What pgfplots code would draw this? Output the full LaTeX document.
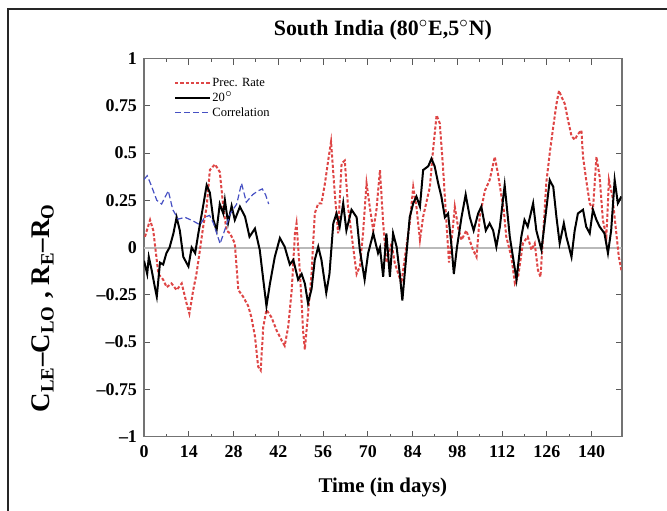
\documentclass[border=0pt]{standalone}
\usepackage{fontspec}
\setmainfont{Liberation Serif}
\usepackage{pgfplots}
\pgfplotsset{compat=1.18}
\definecolor{precred}{RGB}{222,70,70}
\definecolor{corrblue}{RGB}{70,80,195}
\begin{document}
\begin{tikzpicture}
\begin{axis}[
  at={(72bp,-218.25bp)}, anchor=south west,
  scale only axis, width=238.85bp, height=189bp,
  xmin=0, xmax=149.4, ymin=-1, ymax=1,
  xtick={0,14,28,42,56,70,84,98,112,126,140},
  minor x tick num=1,
  ytick={-1,-0.75,-0.5,-0.25,0,0.25,0.5,0.75,1},
  yticklabels={--1,--0.75,--0.5,--0.25,0,0.25,0.5,0.75,1},
  /pgf/number format/assume math mode=true,
  ticklabel style={font=\bfseries\fontsize{9}{9}\selectfont},
  xticklabel style={yshift=-1bp},
  major tick length=3bp, minor tick length=1.5bp,
  tick style={black!65, line width=0.5bp},
  axis line style={black!55, line width=0.8bp},
  tick align=inside,
  title={South India (80$^{\circ}$E,5$^{\circ}$N)},
  title style={font=\bfseries\fontsize{11}{12}\selectfont, at={(axis description cs:0.5,1)}, anchor=center, yshift=8bp},
  xlabel={Time (in days)},
  xlabel style={font=\bfseries\fontsize{10.5}{12}\selectfont, at={(axis description cs:0.5,0)}, anchor=center, yshift=-25.5bp},
  ylabel={C\textsubscript{LE}--C\textsubscript{LO} , R\textsubscript{E}--R\textsubscript{O}},
  ylabel style={font=\bfseries\fontsize{13.5}{14}\selectfont, at={(axis description cs:-0.212,0.34)}, anchor=center},
  legend style={draw=none, fill=none, at={(axis description cs:0.05,0.965)}, anchor=north west,
    font=\fontsize{6.3}{6.3}\selectfont, row sep=1bp,
    nodes={text height=4.6bp, text depth=0.9bp, inner sep=0.5bp}},
  legend cell align=left,
  legend image code/.code={\draw[#1] (0cm,0cm) -- (0.62cm,0cm);},
]
\addplot[gray!55, line width=1bp, forget plot] coordinates {(0,0) (149.4,0)};
\addplot[precred, line width=1bp, dash pattern=on 1.6bp off 1bp] coordinates {
(0.3,0.057) (1.9,0.146) (2.9,0.09) (4.5,-0.14) (6,-0.17) (7.1,-0.21) (8.6,-0.19) (10.2,-0.225)
(11.8,-0.19) (13.3,-0.295) (14.2,-0.35) (15.4,-0.225) (16.4,-0.14) (17.5,-0.013) (18.5,0.11)
(19.6,0.216) (20.6,0.41) (22.2,0.44) (23.7,0.40) (24.8,0.216) (25.8,0.09) (26.9,0.075) (28.4,0.022)
(29.5,-0.225) (31,-0.26) (32.6,-0.31) (33.6,-0.37) (34.7,-0.47) (35.7,-0.63) (36.5,-0.65) (37.3,-0.42)
(38.3,-0.33) (39.9,-0.37) (41.5,-0.44) (43,-0.49) (44,-0.52) (45.1,-0.42) (46.2,-0.225) (47.2,0.075)
(47.7,0.128) (48.8,-0.14) (49.8,-0.45) (50.3,-0.54) (51.3,-0.35) (52.4,-0.14) (53.4,0.18) (54.5,0.234)
(55.5,0.234) (56.6,0.34) (57.6,0.46) (58.5,0.56) (59.6,0.3) (60.7,0.075) (61.8,0.445) (62.8,0.46)
(63.8,0.216) (65.4,0.004) (66.5,-0.14) (67.5,-0.1) (68.5,0.075) (69.6,0.34) (70.6,0.216) (71.7,0.09)
(72.7,0.2) (73.8,0.41) (74.8,0.128) (75.8,-0.08) (77.4,0.022) (78.4,-0.08) (80.5,-0.19) (81.6,-0.05)
(83.1,0.128) (84.2,0.32) (85.2,0.216) (86.3,0.04) (87.3,0.163) (89.4,0.32) (90.4,0.516) (91.5,0.70)
(92.5,0.657) (93.5,0.43) (94.6,0.128) (95.4,-0.08) (96.5,0.09) (97.2,0.216) (98.3,0.1) (99.3,0.04)
(100.8,0.09) (102.9,-0.013) (104,-0.05) (105,0.163) (106.6,0.30) (108.1,0.357) (109.7,0.48) (110.7,0.39)
(111.8,0.27) (112.5,0.2) (113.3,0.057) (114.9,-0.05) (116,-0.19) (117,-0.155) (118.5,0.022) (120,0.057)
(121.2,-0.013) (122.2,0.022) (123.2,-0.12) (124,-0.155) (124.8,0.057) (125.8,0.34) (126.9,0.50) (128,0.64)
(129,0.76) (129.8,0.83) (130.5,0.80) (131.6,0.76) (132.6,0.675) (133.7,0.59) (134.7,0.57) (135.7,0.60)
(136.8,0.62) (137.3,0.48) (138.3,0.357) (139.4,0.234) (140.4,0.2) (141.5,0.48) (142.5,0.375) (143.5,0.146)
(144.6,0.057) (145.4,0.357) (146.5,0.27) (147.5,0.11) (148.5,-0.05) (149.3,-0.12)
};
\addlegendentry{Prec. Rate}
\addplot[black, line width=1bp] coordinates {
(0,-0.07) (1,-0.14) (1.5,-0.05) (2.4,-0.12) (3.4,-0.21) (4,-0.26) (5,-0.08) (6,-0.09) (7,-0.03)
(8,0.0) (9.2,0.075) (10.2,0.16) (11.2,0.09) (12.3,-0.05) (13.9,-0.10) (14.9,0.0) (16,-0.03) (17,0.075)
(18.5,0.22) (19.6,0.33) (20.6,0.29) (21.7,0.146) (22.7,0.09) (23.7,0.23) (24.8,0.18) (25.3,0.25)
(26.3,0.13) (27.4,0.22) (28.4,0.146) (30,0.216) (31.6,0.163) (33,0.057) (34.7,0.1) (36.2,-0.013)
(37.3,-0.17) (38.3,-0.31) (39.4,-0.19) (40.9,-0.05) (42.5,0.05) (44,0.004) (45.6,-0.09) (46.7,-0.066)
(48.2,-0.17) (49.3,-0.14) (50.3,-0.19) (51.3,-0.295) (52.4,-0.22) (53.4,-0.066) (54.5,0.004)
(55.5,-0.066) (57,-0.24) (58,-0.14) (59.2,0.128) (60.2,0.18) (61.2,0.11) (62.3,0.234) (63.3,0.09)
(64.9,0.2) (66.5,0.16) (67.5,-0.013) (69,-0.17) (70.1,-0.03) (71.7,0.075) (73.2,-0.03) (73.8,0.0)
(74.8,-0.155) (75.8,0.075) (76.9,-0.155) (77.9,0.075) (79,0.004) (80,-0.14) (80.8,-0.28) (82,-0.05)
(83.1,0.16) (84.2,0.234) (85.2,0.27) (86.3,0.216) (87.3,0.41) (88.9,0.43) (89.9,0.47) (90.9,0.43)
(92,0.34) (93,0.27) (94.1,0.16) (95.1,0.18) (96.2,0.004) (96.9,-0.14) (97.9,0.004) (99.3,0.16)
(100.6,0.28) (101.9,0.16) (103.1,0.09) (104.5,0.18) (105.5,0.216) (106.9,0.09) (108.1,0.128)
(109.2,0.09) (110.2,0.004) (111.3,0.11) (112.8,0.33) (114.4,0.057) (116.5,-0.17) (118,0.057)
(119,0.146) (120,0.11) (121.7,0.234) (122.7,0.09) (124.3,-0.013) (125.8,0.2) (126.9,0.357) (128,0.32)
(129,0.16) (130,0.022) (131.3,0.128) (132.1,0.057) (133.7,-0.05) (134.7,0.09) (135.7,0.18) (137.3,0.2)
(138.3,0.11) (139.4,0.075) (140.4,0.2) (141.5,0.146) (142.5,0.11) (144,0.075) (145.1,-0.03)
(146.1,0.09) (147.2,0.357) (148.2,0.234) (149.3,0.27)
};
\addlegendentry{20$^{\circ}$}
\addplot[corrblue, line width=0.6bp, dash pattern=on 3bp off 1.5bp] coordinates {
(0,0.36) (1,0.38) (2,0.34) (4,0.25) (5.5,0.23) (7.6,0.30) (9,0.20) (10.7,0.15) (12.8,0.16)
(15.4,0.14) (17.5,0.12) (19,0.16) (20.5,0.17) (21.7,0.13) (23.8,0.02) (25,0.08) (27,0.18) (29,0.23)
(30.5,0.34) (32,0.24) (34,0.28) (35.7,0.30) (37,0.31) (38,0.28) (39,0.23)
};
\addlegendentry{Correlation}
\end{axis}
\draw[line width=1bp, black!85] (3.75bp,-300bp) -- (3.75bp,-4.5bp) -- (400bp,-4.5bp);
\pgfresetboundingbox
\useasboundingbox (0,0) rectangle (333.5bp,-255.5bp);
\end{tikzpicture}
\end{document}
